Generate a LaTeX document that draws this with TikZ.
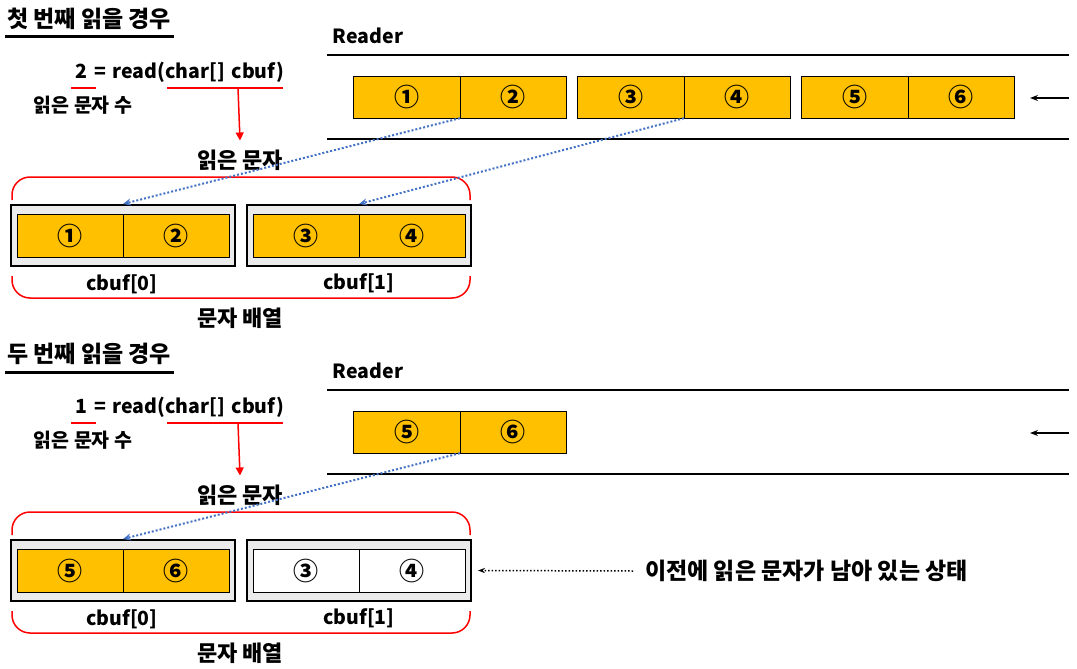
\documentclass[tikz,border=0pt]{standalone}
\usepackage{fontspec}
\setmainfont{Noto Sans CJK KR}
\usetikzlibrary{positioning,arrows.meta}

\definecolor{cellorange}{HTML}{FFC000}
\definecolor{holdergray}{HTML}{EBEBEB}
\definecolor{linkblue}{HTML}{4472C4}

\newcommand{\gap}{\hspace{6.5pt}}

\tikzset{
  cell/.style={draw, fill=cellorange, minimum width=106.5pt, minimum height=42pt,
    inner sep=0pt, font=\fontsize{25}{25}\selectfont\bfseries},
  slot/.style={cell, minimum width=106pt, minimum height=43pt},
  holder/.style={draw, line width=2pt, fill=holdergray, minimum width=224pt,
    minimum height=61pt, inner sep=0pt},
  heading/.style={anchor=west, inner sep=0pt, font=\fontsize{23}{23}\selectfont\bfseries},
  tag/.style={inner sep=0pt, font=\fontsize{19.5}{19.5}\selectfont\bfseries},
  hangul/.style={inner sep=0pt, font=\fontsize{22}{22}\selectfont\bfseries},
  smalltag/.style={inner sep=0pt, font=\fontsize{19.5}{19.5}\selectfont\bfseries},
  bracket/.style={red, line width=1.5pt, rounded corners=18pt},
  redmark/.style={red, line width=2pt},
  link/.style={linkblue, dotted, line width=2pt, -{Stealth[length=8pt,width=7pt]}},
}

\begin{document}
\begin{tikzpicture}[x=1pt,y=-1pt]
    \useasboundingbox (0,0) rectangle (1077,669);

    % first read
    \node[heading] (titlea) at (7,19) {첫 번째 읽을 경우};
    \draw[line width=3pt] (5,37) -- (174,37);

    \node[tag] (readera) at (368,36) {Reader};
    \draw[line width=1.2pt] (327,55) -- (1069,55);
    \draw[line width=1.2pt] (327,139) -- (1069,139);
    \node[cell] (ra1) at (406.5,97) {①};
    \node[cell, right=0pt of ra1] (ra2) {②};
    \node[cell] (ra3) at (630.5,97) {③};
    \node[cell, right=0pt of ra3] (ra4) {④};
    \node[cell] (ra5) at (854.5,97) {⑤};
    \node[cell, right=0pt of ra5] (ra6) {⑥};
    \coordinate (ina) at (1069,98);
    \coordinate (outa) at (1030,98);
    \draw[line width=1.2pt, -{Stealth[length=8pt]}] (ina) -- (outa);

    \node[tag] (calla) at (180,72) {2\gap=\gap read(char[]\gap cbuf)};
    \draw[redmark] (71,88) -- (96,88);
    \draw[redmark] (167,88) -- (283,88);
    \coordinate (arga) at (238,88);
    \node[smalltag] (counta) at (83,105) {읽은 문자 수};
    \node[hangul] (gota) at (240,160) {읽은 문자};
    \draw[red, line width=1.5pt, -{Triangle[length=8pt,width=8pt]}] (arga) -- ([yshift=9pt]gota.north);

    \draw[bracket] (12,200) -- (12,177) -- (470,177) -- (470,200);
    \draw[bracket] (12,276) -- (12,298) -- (470,298) -- (470,276);

    \node[holder] (ha0) at (123,235.5) {};
    \node[slot] (sa1) at (70,235.5) {①};
    \node[slot, right=0pt of sa1] (sa2) {②};
    \node[holder] (ha1) at (359,235.5) {};
    \node[slot] (sa3) at (306,235.5) {③};
    \node[slot, right=0pt of sa3] (sa4) {④};
    \node[tag] (labela0) at (122,284) {cbuf[0]};
    \node[tag] (labela1) at (359,283) {cbuf[1]};
    \node[hangul] (arraya) at (240,318) {문자 배열};

    \draw[link] (ra2.south west) -- (ha0.north);
    \draw[link] (ra4.south west) -- (ha1.north);

    % second read
    \node[heading] (titleb) at (7,354) {두 번째 읽을 경우};
    \draw[line width=3pt] (5,372) -- (174,372);

    \node[tag] (readerb) at (368,371) {Reader};
    \draw[line width=1.2pt] (327,390) -- (1069,390);
    \draw[line width=1.2pt] (327,474) -- (1069,474);
    \node[cell] (rb5) at (406.5,432) {⑤};
    \node[cell, right=0pt of rb5] (rb6) {⑥};
    \coordinate (inb) at (1069,433);
    \coordinate (outb) at (1030,433);
    \draw[line width=1.2pt, -{Stealth[length=8pt]}] (inb) -- (outb);

    \node[tag] (callb) at (180,407) {1\gap=\gap read(char[]\gap cbuf)};
    \draw[redmark] (71,423) -- (96,423);
    \draw[redmark] (167,423) -- (283,423);
    \coordinate (argb) at (238,423);
    \node[smalltag] (countb) at (83,440) {읽은 문자 수};
    \node[hangul] (gotb) at (240,495) {읽은 문자};
    \draw[red, line width=1.5pt, -{Triangle[length=8pt,width=8pt]}] (argb) -- ([yshift=9pt]gotb.north);

    \draw[bracket] (12,535) -- (12,512) -- (470,512) -- (470,535);
    \draw[bracket] (12,611) -- (12,633) -- (470,633) -- (470,611);

    \node[holder] (hb0) at (123,570.5) {};
    \node[slot] (sb5) at (70,570.5) {⑤};
    \node[slot, right=0pt of sb5] (sb6) {⑥};
    \node[holder] (hb1) at (359,570.5) {};
    \node[slot, fill=white] (sb3) at (306,570.5) {③};
    \node[slot, fill=white, right=0pt of sb3] (sb4) {④};
    \node[tag] (labelb0) at (122,619) {cbuf[0]};
    \node[tag] (labelb1) at (359,618) {cbuf[1]};
    \node[hangul] (arrayb) at (240,653) {문자 배열};

    \draw[link] (rb6.south west) -- (hb0.north);

    \node[heading] (noteb) at (645,571) {이전에 읽은 문자가 남아 있는 상태};
    \draw[dotted, line width=1.5pt, -{Stealth[length=7pt]}] ([xshift=-12pt]noteb.west) -- ([xshift=6pt]hb1.east);
\end{tikzpicture}
\end{document}
